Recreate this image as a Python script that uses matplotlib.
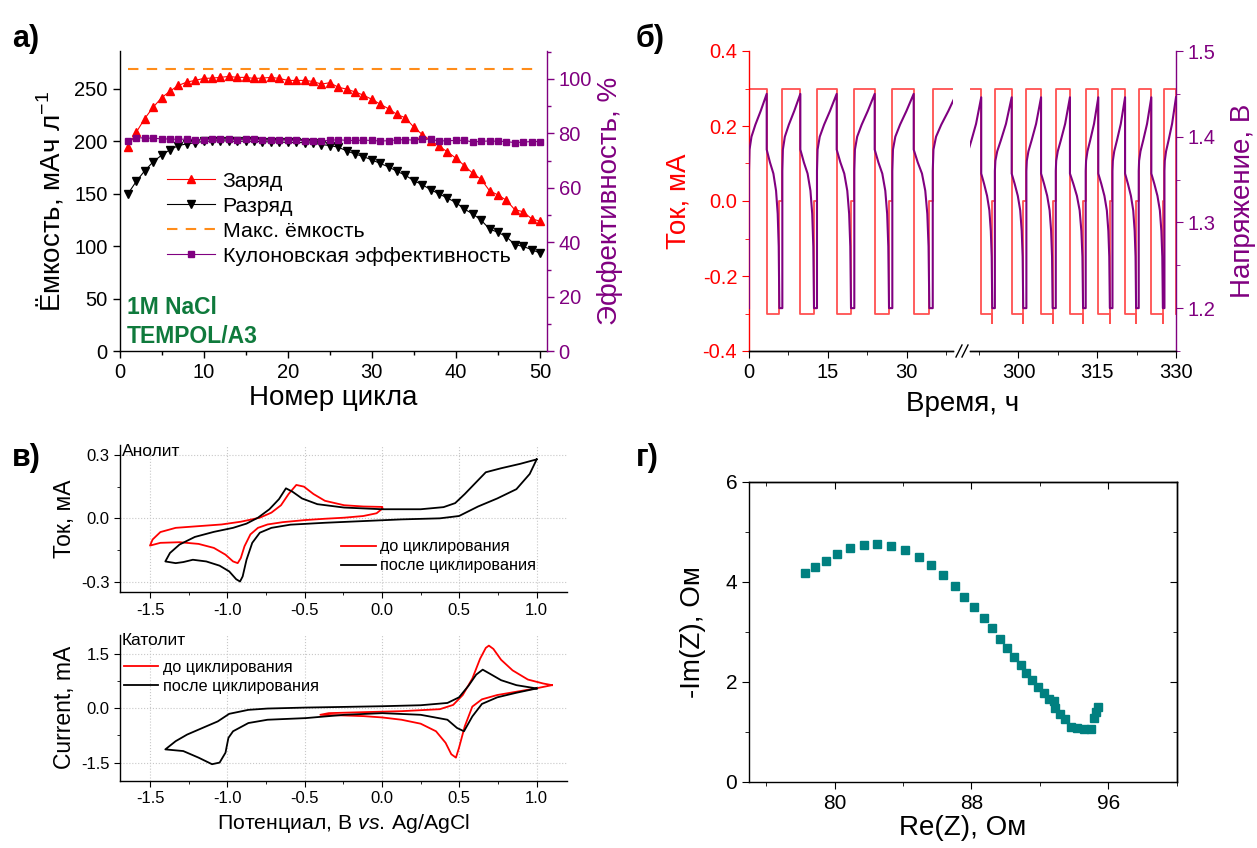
import numpy as np
import matplotlib
matplotlib.use("Agg")
import matplotlib.pyplot as plt
from matplotlib.lines import Line2D
from matplotlib.ticker import MultipleLocator

plt.rcParams.update({
    "font.family": ["Liberation Sans", "DejaVu Sans"],
    "mathtext.fontset": "custom",
    "mathtext.rm": "Liberation Sans",
    "mathtext.it": "Liberation Sans:italic",
    "mathtext.bf": "Liberation Sans:bold",
    "axes.unicode_minus": False,
    "axes.linewidth": 1.0,
})

# ---------------- panel a data ----------------
cycle_no = list(range(1, 51))
charge_cap = [194.7, 208.7, 221.7, 232.5, 241.4, 247.8, 253.2, 256.4, 258.0, 259.9,
              260.2, 260.9, 261.8, 260.9, 260.9, 259.9, 260.2, 260.9, 259.9, 258.0,
              258.0, 258.0, 257.0, 254.5, 255.8, 251.6, 249.7, 247.1, 244.0, 240.0,
              235.4, 231.0, 225.6, 222.4, 213.5, 206.5, 200.8, 195.4, 190.0, 184.0,
              177.0, 169.6, 164.0, 153.0, 149.0, 144.0, 135.0, 133.0, 126.4, 124.0]
discharge_cap = [150.0, 162.0, 172.0, 180.5, 186.8, 192.0, 196.0, 197.6, 198.6, 200.0,
                 200.3, 200.6, 200.3, 200.0, 200.3, 200.0, 199.7, 199.4, 199.4, 199.0,
                 199.0, 198.7, 198.4, 197.0, 196.0, 194.5, 191.0, 188.0, 185.5, 182.4,
                 179.0, 175.7, 171.5, 167.7, 162.6, 158.8, 154.0, 150.0, 146.0, 141.8,
                 135.6, 131.0, 125.0, 116.6, 113.4, 109.3, 101.7, 100.0, 97.0, 93.7]
coul_eff = [77.3, 78.4, 78.3, 78.2, 78.0, 77.9, 77.8, 77.9, 77.7, 77.6,
            78.0, 77.9, 77.8, 77.7, 77.8, 77.9, 77.6, 77.4, 77.5, 77.6,
            77.4, 77.3, 77.2, 77.3, 77.4, 77.7, 77.4, 77.4, 77.5, 77.4,
            77.2, 77.3, 77.6, 77.7, 77.5, 77.9, 77.8, 77.2, 77.3, 77.4,
            77.5, 76.8, 77.1, 77.2, 77.1, 77.0, 76.6, 76.8, 77.0, 77.0]
max_cap_x = [1, 50]
max_cap_y = [268.5, 268.5]

# ---------------- panel b data (hours) ----------------
chg_start_L = [0.0, 6.35, 12.95, 20.06, 27.3, 35.0]
chg_end_L = [3.37, 9.78, 16.7, 23.94, 31.37, 39.5]
dis_end_L = [5.78, 12.38, 19.43, 26.67, 34.35]
chg_start_R = [290.0, 295.5, 301.5, 307.1, 312.8, 317.9, 322.9, 327.8]
chg_end_R = [292.9, 298.7, 304.3, 309.8, 315.2, 320.3, 325.3, 330.0]
dis_end_R = [295.0, 300.9, 306.5, 312.3, 317.4, 322.4, 327.5]
# voltage shapes (fraction of step, V)
chg_frac = [0.0, 0.0, 0.03, 0.14, 0.36, 0.66, 1.0]
chg_V_L = [1.20, 1.36, 1.385, 1.40, 1.414, 1.43, 1.45]
chg_V_R = [1.20, 1.36, 1.372, 1.383, 1.396, 1.415, 1.446]
dis_frac = [0.0, 0.0, 0.26, 0.53, 0.74, 0.87, 0.95, 1.0]
dis_V_L = [1.45, 1.385, 1.37, 1.357, 1.337, 1.31, 1.272, 1.20]
dis_V_R = [1.446, 1.357, 1.345, 1.331, 1.314, 1.29, 1.26, 1.20]
I_charge, I_discharge = 0.3, -0.3
spike_L, spike_R = -0.3, -0.325

# ---------------- panel c data ----------------
an_before_E = [0.002, -0.035, -0.121, -0.245, -0.369, -0.493, -0.641, -0.740, -0.802, -0.851,
               -0.889, -0.913, -0.933, -0.963, -1.012, -1.087, -1.186, -1.309, -1.433, -1.5,
               -1.483, -1.433, -1.334, -1.186, -1.037, -0.913, -0.790, -0.715, -0.653, -0.604,
               -0.554, -0.505, -0.443, -0.369, -0.245, -0.121, 0.002, 0.002]
an_before_I = [0.046, 0.024, 0.011, 0.003, -0.002, -0.008, -0.018, -0.029, -0.045, -0.076,
               -0.132, -0.188, -0.212, -0.204, -0.172, -0.140, -0.121, -0.113, -0.116, -0.129,
               -0.100, -0.065, -0.045, -0.037, -0.029, -0.016, 0.003, 0.027, 0.062, 0.115,
               0.158, 0.150, 0.115, 0.083, 0.062, 0.056, 0.054, 0.046]
an_after_E = [1.0, 0.955, 0.869, 0.745, 0.621, 0.498, 0.374, 0.126, -0.121, -0.369,
              -0.592, -0.715, -0.790, -0.839, -0.876, -0.901, -0.918, -0.943, -0.988, -1.050,
              -1.136, -1.223, -1.285, -1.334, -1.401, -1.371, -1.309, -1.210, -1.087, -0.963,
              -0.876, -0.802, -0.728, -0.666, -0.621, -0.579, -0.517, -0.418, -0.245, 0.002,
              0.250, 0.398, 0.473, 0.535, 0.597, 0.671, 0.770, 0.894, 1.0]
an_after_I = [0.279, 0.210, 0.138, 0.094, 0.056, 0.011, 0.000, -0.005, -0.013, -0.021,
              -0.030, -0.045, -0.068, -0.116, -0.196, -0.275, -0.299, -0.288, -0.251, -0.224,
              -0.204, -0.196, -0.207, -0.212, -0.204, -0.164, -0.124, -0.088, -0.064, -0.045,
              -0.025, 0.003, 0.043, 0.091, 0.142, 0.126, 0.094, 0.067, 0.051, 0.043,
              0.043, 0.053, 0.072, 0.115, 0.162, 0.218, 0.237, 0.258, 0.279]
cat_before_E = [1.099, 0.993, 0.869, 0.745, 0.646, 0.584, 0.535, 0.498, 0.478, 0.448,
                0.411, 0.349, 0.250, 0.126, 0.002, -0.121, -0.245, -0.399, -0.344, -0.121,
                0.126, 0.374, 0.460, 0.522, 0.584, 0.634, 0.671, 0.691, 0.720, 0.770,
                0.844, 0.943, 1.042, 1.099]
cat_before_I = [0.636, 0.545, 0.455, 0.364, 0.245, 0.045, -0.5, -1.09, -1.364, -1.27,
                -0.955, -0.636, -0.427, -0.318, -0.255, -0.218, -0.2, -0.182, -0.136, -0.109,
                -0.082, -0.027, 0.091, 0.364, 0.818, 1.364, 1.664, 1.727, 1.636, 1.336,
                1.045, 0.791, 0.682, 0.636]
cat_after_E = [1.0, 0.869, 0.745, 0.646, 0.584, 0.530, 0.485, 0.423, 0.250, 0.002,
               -0.245, -0.493, -0.740, -0.864, -0.963, -0.993, -1.012, -1.050, -1.099, -1.186,
               -1.285, -1.401, -1.334, -1.260, -1.161, -1.062, -0.988, -0.864, -0.740, -0.493,
               -0.245, 0.002, 0.250, 0.423, 0.498, 0.559, 0.609, 0.651, 0.696, 0.770,
               0.869, 1.0]
cat_after_I = [0.545, 0.427, 0.300, 0.118, -0.227, -0.636, -0.545, -0.318, -0.182, -0.136,
               -0.182, -0.273, -0.318, -0.409, -0.636, -0.818, -1.227, -1.5, -1.545, -1.364,
               -1.182, -1.136, -0.909, -0.727, -0.545, -0.364, -0.155, -0.045, -0.009, 0.018,
               0.036, 0.055, 0.082, 0.145, 0.300, 0.618, 0.927, 1.064, 0.955, 0.773,
               0.636, 0.545]

# ---------------- panel d data ----------------
re_z = [78.30, 78.88, 79.51, 80.17, 80.93, 81.71, 82.48, 83.31, 84.09, 84.91,
        85.62, 86.34, 87.02, 87.59, 88.17, 88.72, 89.21, 89.65, 90.09, 90.47,
        90.91, 91.22, 91.57, 91.90, 92.23, 92.52, 92.82, 92.88, 93.17, 93.50,
        93.85, 94.19, 94.58, 94.97, 95.16, 95.26, 95.39]
im_z = [4.17, 4.29, 4.42, 4.55, 4.67, 4.73, 4.76, 4.72, 4.63, 4.50,
        4.33, 4.13, 3.92, 3.70, 3.49, 3.28, 3.07, 2.86, 2.67, 2.50,
        2.34, 2.18, 2.03, 1.90, 1.78, 1.66, 1.62, 1.47, 1.35, 1.25,
        1.10, 1.07, 1.05, 1.05, 1.27, 1.40, 1.50]

RED = "#ff0000"
PURPLE = "#800080"
GREEN = "#0f7a3c"
TEAL = "#008080"

W, H = 1257, 848
fig = plt.figure(figsize=(W / 100, H / 100), dpi=100)


def px_axes(l, r, t, b):
    return fig.add_axes([l / W, 1 - b / H, (r - l) / W, (b - t) / H])


TICK = 14.5
LAB = 20

# ================= panel a =================
axa = px_axes(119.5, 546.7, 51, 351.5)
axa2 = axa.twinx()
h1, = axa.plot(cycle_no, charge_cap, color=RED, marker="^", ms=6.3, lw=0.8, label="Заряд")
h2, = axa.plot(cycle_no, discharge_cap, color="black", marker="v", ms=6.3, lw=0.8, label="Разряд")
h3, = axa.plot(max_cap_x, max_cap_y, color="#ff8c1a", ls=(0, (5, 4)), lw=1.5, label="Макс. ёмкость")
h4, = axa2.plot(cycle_no, coul_eff, color=PURPLE, marker="s", ms=5, lw=0.8,
                label="Кулоновская эффективность")
axa.set_xlim(0, 50.8)
axa.set_ylim(0, 286)
axa2.set_ylim(0, 110.2)
axa.xaxis.set_major_locator(MultipleLocator(10))
axa.xaxis.set_minor_locator(MultipleLocator(5))
axa.yaxis.set_major_locator(MultipleLocator(50))
axa2.yaxis.set_major_locator(MultipleLocator(20))
axa2.yaxis.set_minor_locator(MultipleLocator(10))
for ax in (axa, axa2):
    ax.spines["top"].set_visible(False)
axa.spines["right"].set_visible(False)
axa2.spines["left"].set_visible(False)
axa2.spines["bottom"].set_visible(False)
axa2.spines["right"].set_color(PURPLE)
axa.tick_params(which="both", direction="out", labelsize=TICK, width=1)
axa.tick_params(which="major", length=5)
axa.tick_params(which="minor", length=3)
axa2.tick_params(which="both", direction="out", labelsize=TICK, colors=PURPLE, width=1)
axa2.tick_params(which="major", length=5)
axa2.tick_params(which="minor", length=3)
axa.set_xlabel("Номер цикла", fontsize=LAB, labelpad=2)
axa.set_ylabel("Ёмкость, мАч л$^{-1}$", fontsize=LAB, labelpad=6)
axa2.set_ylabel("Эффективность, %", fontsize=LAB, color=PURPLE, labelpad=4)
axa2.legend(handles=[h1, h2, h3, h4], loc="upper left", bbox_to_anchor=(0.111, 0.598),
            frameon=False, fontsize=15.4, handlelength=2.25, handletextpad=0.35,
            labelspacing=0.28, borderpad=0, borderaxespad=0, numpoints=1)
axa.text(0.018, 0.148, "1M NaCl", transform=axa.transAxes, color=GREEN, fontsize=16.5,
         fontweight="bold", va="center", ha="left")
axa.text(0.018, 0.05, "TEMPOL/A3", transform=axa.transAxes, color=GREEN, fontsize=16.5,
         fontweight="bold", va="center", ha="left")


# ================= panel b =================
def build_current(cs, ce, de, spike):
    t, i = [], []
    for k in range(len(cs)):
        t += [cs[k], cs[k], ce[k], ce[k]]
        i += [0.0, I_charge, I_charge, I_discharge]
        if k < len(de):
            t += [de[k], de[k], de[k]]
            i += [I_discharge, spike, 0.0]
    return t, i


def build_voltage(cs, ce, de, cf, cv, dfr, dv):
    t, v = [], []
    for k in range(len(cs)):
        for f, V in zip(cf, cv):
            t.append(cs[k] + f * (ce[k] - cs[k]))
            v.append(V)
        if k < len(de):
            for f, V in zip(dfr, dv):
                t.append(ce[k] + f * (de[k] - ce[k]))
                v.append(V)
    return t, v


pxh = 5.25
xL0, xL1 = 0.0, 38.8
xR0, xR1 = 290.8, 330.0
bl = 749.0
axbL = px_axes(bl, bl + (xL1 - xL0) * pxh, 51, 351)
axbR = px_axes(1176 - (xR1 - xR0) * pxh, 1176, 51, 351)
axbLv = axbL.twinx()
axbRv = axbR.twinx()

tI, iI = build_current(chg_start_L, chg_end_L, dis_end_L, spike_L)
axbL.plot(tI, iI, color="#ff3333", lw=1.3, alpha=0.85)
tI, iI = build_current(chg_start_R, chg_end_R, dis_end_R, spike_R)
axbR.plot(tI, iI, color="#ff3333", lw=1.3, alpha=0.85)
tV, vV = build_voltage(chg_start_L, chg_end_L, dis_end_L, chg_frac, chg_V_L, dis_frac, dis_V_L)
axbLv.plot(tV, vV, color=PURPLE, lw=1.5)
tV, vV = build_voltage(chg_start_R, chg_end_R, dis_end_R, chg_frac, chg_V_R, dis_frac, dis_V_R)
axbRv.plot(tV, vV, color=PURPLE, lw=1.5)

for ax in (axbL, axbLv):
    ax.set_xlim(xL0, xL1)
for ax in (axbR, axbRv):
    ax.set_xlim(xR0, xR1)
for ax in (axbL, axbR):
    ax.set_ylim(-0.4, 0.4)
for ax in (axbLv, axbRv):
    ax.set_ylim(1.15, 1.5)
for ax in (axbL, axbR, axbLv, axbRv):
    ax.spines["top"].set_visible(False)
axbL.spines["right"].set_visible(False)
axbLv.spines["right"].set_visible(False)
axbLv.spines["left"].set_visible(False)
axbLv.tick_params(right=False, labelright=False, which="both")
axbR.spines["left"].set_visible(False)
axbR.spines["right"].set_visible(False)
axbRv.spines["left"].set_visible(False)
axbR.tick_params(left=False, labelleft=False, which="both")
axbL.spines["left"].set_color(RED)
axbRv.spines["right"].set_color(PURPLE)
axbL.yaxis.set_major_locator(MultipleLocator(0.2))
axbL.yaxis.set_minor_locator(MultipleLocator(0.1))
axbRv.yaxis.set_major_locator(MultipleLocator(0.1))
axbRv.yaxis.set_minor_locator(MultipleLocator(0.05))
axbL.xaxis.set_major_locator(MultipleLocator(15))
axbL.xaxis.set_minor_locator(MultipleLocator(7.5))
axbR.set_xticks([300, 315, 330])
axbR.set_xticks([292.5, 307.5, 322.5], minor=True)
for ax in (axbL, axbR):
    ax.tick_params(axis="x", which="both", direction="out", labelsize=TICK)
    ax.tick_params(axis="x", which="major", length=5)
    ax.tick_params(axis="x", which="minor", length=3)
axbL.tick_params(axis="y", which="both", direction="out", labelsize=TICK, colors=RED)
axbL.tick_params(axis="y", which="major", length=5)
axbL.tick_params(axis="y", which="minor", length=3)
axbRv.tick_params(axis="y", which="both", direction="out", labelsize=TICK, colors=PURPLE)
axbRv.tick_params(axis="y", which="major", length=5)
axbRv.tick_params(axis="y", which="minor", length=3)
axbL.set_ylabel("Ток, мА", fontsize=LAB, color=RED, labelpad=8)
axbRv.set_ylabel("Напряжение, В", fontsize=LAB, color=PURPLE, labelpad=10)
fig.text(963 / W, 1 - 404 / H, "Время, ч", fontsize=LAB, ha="center", va="center")
# break marks
for x0 in (956.0, 962.0):
    fig.add_artist(Line2D([x0 / W, (x0 + 6) / W], [1 - 357 / H, 1 - 345 / H],
                          color="black", lw=1.0))

# ================= panel c =================
axc1 = px_axes(120, 567.3, 445, 592.3)
axc2 = px_axes(120, 567.3, 635, 780.7)
axc1.plot(an_before_E, an_before_I, color=RED, lw=1.3, label="до циклирования")
axc1.plot(an_after_E, an_after_I, color="black", lw=1.3, label="после циклирования")
axc2.plot(cat_before_E, cat_before_I, color=RED, lw=1.3, label="до циклирования")
axc2.plot(cat_after_E, cat_after_I, color="black", lw=1.3, label="после циклирования")
axc1.set_ylim(-0.35, 0.347)
axc2.set_ylim(-2.0, 2.02)
axc1.yaxis.set_major_locator(MultipleLocator(0.3))
axc1.yaxis.set_minor_locator(MultipleLocator(0.15))
axc2.yaxis.set_major_locator(MultipleLocator(1.5))
axc2.yaxis.set_minor_locator(MultipleLocator(0.75))
for ax in (axc1, axc2):
    ax.set_xlim(-1.694, 1.198)
    ax.xaxis.set_major_locator(MultipleLocator(0.5))
    ax.xaxis.set_minor_locator(MultipleLocator(0.25))
    ax.spines["top"].set_visible(False)
    ax.spines["right"].set_visible(False)
    ax.grid(True, which="major", ls=":", color="#c8c8c8", lw=0.8)
    ax.set_axisbelow(True)
    ax.tick_params(which="both", direction="out", labelsize=12)
    ax.tick_params(which="major", length=4)
    ax.tick_params(which="minor", length=2.5)
axc1.set_ylabel("Ток, мА", fontsize=16.5, labelpad=4)
axc2.set_ylabel("Current, mA", fontsize=16.5, labelpad=4)
axc2.set_xlabel("Потенциал, В $\\mathit{vs.}\\,$Ag/AgCl", fontsize=15.3, labelpad=4)
axc1.text(0.004, 0.955, "Анолит", transform=axc1.transAxes, fontsize=12.5, va="center", ha="left")
axc2.text(0.004, 0.965, "Католит", transform=axc2.transAxes, fontsize=12.5, va="center", ha="left")
axc1.legend(loc="upper left", bbox_to_anchor=(0.495, 0.36), frameon=False, fontsize=11.7,
            handlelength=2.1, handletextpad=0.3, labelspacing=0.25, borderpad=0, borderaxespad=0)
axc2.legend(loc="upper left", bbox_to_anchor=(0.008, 0.83), frameon=False, fontsize=11.7,
            handlelength=2.1, handletextpad=0.3, labelspacing=0.25, borderpad=0, borderaxespad=0)

# ================= panel d =================
axd = px_axes(749, 1176.7, 481.7, 781.7)
axd.plot(re_z, im_z, ls="none", marker="s", ms=5.5, color=TEAL, mec=TEAL)
axd.set_xlim(75, 100)
axd.set_ylim(0, 6)
axd.set_xticks([80, 88, 96])
axd.set_xticks([76, 84, 92, 100], minor=True)
axd.yaxis.set_major_locator(MultipleLocator(2))
axd.yaxis.set_minor_locator(MultipleLocator(1))
axd.tick_params(which="both", direction="out", labelsize=TICK + 0.5)
axd.tick_params(which="major", length=5)
axd.tick_params(which="minor", length=3)
sx = axd.secondary_xaxis("top")
sx.set_xticks([80, 88, 96])
sx.set_xticks([76, 84, 92, 100], minor=True)
sx.tick_params(which="both", direction="in", labeltop=False)
sx.tick_params(which="major", length=5)
sx.tick_params(which="minor", length=3)
sy = axd.secondary_yaxis("right")
sy.set_yticks([0, 2, 4, 6])
sy.set_yticks([1, 3, 5], minor=True)
sy.tick_params(which="both", direction="in", labelright=False)
sy.tick_params(which="major", length=5)
sy.tick_params(which="minor", length=3)
axd.set_xlabel("Re(Z), Ом", fontsize=LAB, labelpad=2)
axd.set_ylabel("-Im(Z), Ом", fontsize=LAB, labelpad=14)

# panel letters
for (x, y, s) in [(12, 47, "а)"), (636, 47, "б)"), (12, 466, "в)"), (636, 466, "г)")]:
    fig.text(x / W, 1 - y / H, s, fontsize=22, fontweight="bold", ha="left", va="baseline")

fig.savefig("out.png", dpi=100)
